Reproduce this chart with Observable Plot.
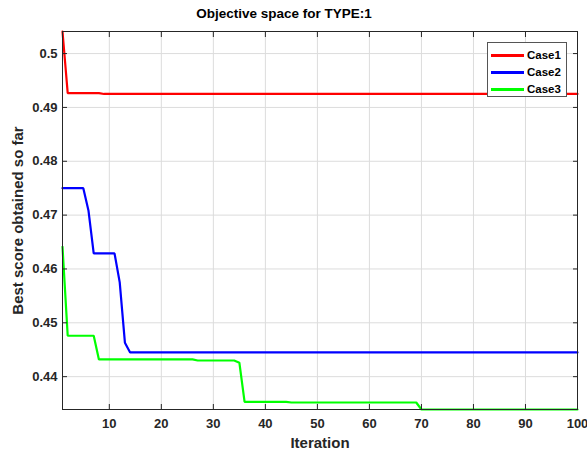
<!DOCTYPE html>
<html>
<head>
<meta charset="utf-8">
<script src="https://cdn.jsdelivr.net/npm/d3@7"></script>
<script src="https://cdn.jsdelivr.net/npm/@observablehq/plot@0.6"></script>
<style>
  html, body { margin: 0; padding: 0; background: #fff; }
  #fig { position: relative; width: 587px; height: 453px; font-family: "Liberation Sans", Arial, sans-serif; }
  #title { height: 26px; width: 568px; text-align: center; font-weight: bold; font-size: 13.5px; line-height: 28px; color: #000; }
  #legend { position: absolute; left: 487px; top: 42px; width: 80px; height: 55px; border: 1px solid #555; background: #fff; box-sizing: border-box; }
  .row { position: absolute; left: 0; height: 16px; display: flex; align-items: center; font-weight: bold; font-size: 11.5px; color: #000; white-space: nowrap; }
  .sw { flex: none; width: 33px; height: 3px; margin-left: 3px; margin-right: 3px; }
</style>
</head>
<body>
<div id="fig">
  <div id="title">Objective space for TYPE:1</div>
  <div id="chart"></div>
  <div id="legend"></div>
</div>
<script>
const seriesNames = ["Case1", "Case2", "Case3"];
const seriesColors = ["#ff0000", "#0000ff", "#00ff00"];

const case1X = [1, 2, 8, 9, 100];
const case1Y = [0.5041, 0.49265, 0.49265, 0.4925, 0.4925];

const case2X = [1, 5, 6, 7, 11, 12, 13, 14, 100];
const case2Y = [0.475, 0.475, 0.4708, 0.4629, 0.4629, 0.4575, 0.4463, 0.4445, 0.4445];

const case3X = [1, 2, 7, 8, 26, 27, 34, 35, 36, 44, 45, 69, 70, 100];
const case3Y = [0.4641, 0.4476, 0.4476, 0.4432, 0.4432, 0.4430, 0.4430, 0.4426, 0.4353, 0.4353, 0.4352, 0.4352, 0.4339, 0.4339];

const xTicks = [10, 20, 30, 40, 50, 60, 70, 80, 90, 100];
const yTicks = [0.44, 0.45, 0.46, 0.47, 0.48, 0.49, 0.5];

const xs = [case1X, case2X, case3X];
const ys = [case1Y, case2Y, case3Y];
const data = [];
seriesNames.forEach((name, s) => {
  xs[s].forEach((x, i) => data.push({series: name, x, y: ys[s][i]}));
});

const yMin = d3.min(data, d => d.y);
const yMax = d3.max(data, d => d.y);
const fmtY = d => String(+d.toFixed(2));

const gridColor = "#dcdcdc";

const chart = Plot.plot({
  width: 587,
  height: 427,
  marginTop: 5,
  marginBottom: 44,
  marginLeft: 62,
  marginRight: 10,
  style: {fontFamily: "Liberation Sans, Arial, sans-serif", fontSize: "13px", fontWeight: "bold", color: "#262626", background: "#fff"},
  x: {domain: [1, 100]},
  y: {domain: [yMin, yMax]},
  color: {domain: seriesNames, range: seriesColors},
  marks: [
    Plot.gridX(xTicks, {stroke: gridColor, strokeOpacity: 1, strokeWidth: 1}),
    Plot.gridY(yTicks, {stroke: gridColor, strokeOpacity: 1, strokeWidth: 1}),
    Plot.line(data, {x: "x", y: "y", z: "series", stroke: "series", strokeWidth: 2.2, strokeLinejoin: "miter"}),
    Plot.frame({stroke: "#262626", strokeWidth: 1}),
    Plot.axisX(xTicks, {anchor: "bottom", tickSize: -5, tickPadding: 14, fontSize: 13, fontWeight: "bold", stroke: "#262626", fill: "#262626", label: null}),
    Plot.axisX(xTicks, {anchor: "top", tickSize: -5, tickFormat: () => "", stroke: "#262626", label: null}),
    Plot.axisY(yTicks, {anchor: "left", tickSize: -5, tickPadding: 10, tickFormat: fmtY, fontSize: 13, fontWeight: "bold", stroke: "#262626", fill: "#262626", label: null}),
    Plot.axisY(yTicks, {anchor: "right", tickSize: -5, tickFormat: () => "", stroke: "#262626", label: null}),
    Plot.text(["Iteration"], {frameAnchor: "bottom", dy: 38, fontSize: 15, fontWeight: "bold", fill: "#262626"}),
    Plot.text(["Best score obtained so far"], {frameAnchor: "left", textAnchor: "middle", dx: -44, rotate: -90, fontSize: 15, fontWeight: "bold", fill: "#262626"})
  ]
});
document.getElementById("chart").appendChild(chart);

const legend = document.getElementById("legend");
seriesNames.forEach((name, i) => {
  const row = document.createElement("div");
  row.className = "row";
  row.style.top = (4 + i * 17) + "px";
  const sw = document.createElement("div");
  sw.className = "sw";
  sw.style.background = seriesColors[i];
  const t = document.createElement("span");
  t.textContent = name;
  row.appendChild(sw);
  row.appendChild(t);
  legend.appendChild(row);
});
</script>
</body>
</html>
